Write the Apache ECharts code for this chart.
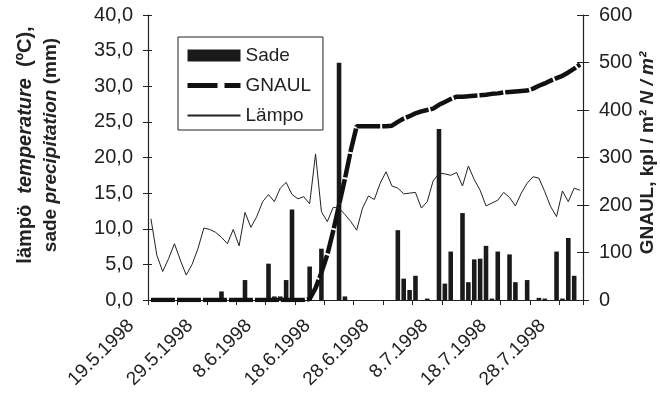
<!DOCTYPE html>
<html><head><meta charset="utf-8">
<script src="https://cdn.jsdelivr.net/npm/echarts@6/dist/echarts.min.js"></script>
<style>html,body{margin:0;padding:0;background:#fff}#c{width:660px;height:398px}</style>
</head><body><div id="c"></div>
<script>
var categories = [
'19.5.1998','20.5.1998','21.5.1998','22.5.1998','23.5.1998','24.5.1998','25.5.1998','26.5.1998','27.5.1998','28.5.1998',
'29.5.1998','30.5.1998','31.5.1998','1.6.1998','2.6.1998','3.6.1998','4.6.1998','5.6.1998','6.6.1998','7.6.1998',
'8.6.1998','9.6.1998','10.6.1998','11.6.1998','12.6.1998','13.6.1998','14.6.1998','15.6.1998','16.6.1998','17.6.1998',
'18.6.1998','19.6.1998','20.6.1998','21.6.1998','22.6.1998','23.6.1998','24.6.1998','25.6.1998','26.6.1998','27.6.1998',
'28.6.1998','29.6.1998','30.6.1998','1.7.1998','2.7.1998','3.7.1998','4.7.1998','5.7.1998','6.7.1998','7.7.1998',
'8.7.1998','9.7.1998','10.7.1998','11.7.1998','12.7.1998','13.7.1998','14.7.1998','15.7.1998','16.7.1998','17.7.1998',
'18.7.1998','19.7.1998','20.7.1998','21.7.1998','22.7.1998','23.7.1998','24.7.1998','25.7.1998','26.7.1998','27.7.1998',
'28.7.1998','29.7.1998','30.7.1998','31.7.1998'];

var sade = [
0,0,0,0,0,0,0,0,0,0,
0,0,1.2,0,0,0,2.8,0,0,0,
5.1,0.5,0.5,2.8,12.7,0,0,4.7,0,7.2,
0,0,33.3,0.5,0,0,0,0,0,0,
0,0,9.8,3.0,1.4,3.4,0,0.2,0,24.0,
2.3,6.8,0,12.2,2.5,5.7,5.8,7.6,0.2,6.8,
0,6.4,2.5,0,2.8,0,0.3,0.2,0,6.8,
0.2,8.7,3.4,0];

var gnaul = [
0,0,0,0,0,0,0,0,0,0,
0,0,0,0,0,0,0,0,0,0,
0,0,0,0,0,0,0,2,25,58,
95,145,200,255,315,366,366,366,366,366,
366,367,375,382,387,393,397,400,403,411,
417,423,428,428,429,430,431,432,434,435,
437,438,439,440,441,445,451,456,462,467,
472,479,487,496];

var lampo = [
11.4,6.3,4.0,5.8,7.9,5.6,3.5,5.0,7.2,10.1,
9.9,9.5,8.8,7.9,9.9,7.6,12.3,10.2,11.7,13.8,
14.8,13.8,15.7,16.5,14.8,14.2,14.5,13.5,20.5,12.4,
11.0,13.0,12.9,12.0,11.0,9.8,12.9,14.6,14.1,16.4,
18.0,16.0,15.7,14.9,15.0,15.1,12.9,13.8,16.7,17.8,
17.7,17.5,17.9,16.0,18.8,16.9,15.4,13.2,13.6,14.0,
15.1,14.4,13.2,15.0,16.4,17.3,17.1,15.2,13.1,11.7,
15.3,13.8,15.7,15.4];

var leftTicks = {min:0, max:40, interval:5};
var rightTicks = {min:0, max:600, interval:100};

var FF = 'Liberation Sans, Arial, sans-serif';
var TXT = '#222';
var chart = echarts.init(document.getElementById('c'), null, {renderer:'canvas'});
var axLine = {show:true, lineStyle:{color:'#222', width:1.2}};
chart.setOption({
  animation:false,
  backgroundColor:'#fff',
  grid:{left:148, right:77, top:15, bottom:98, containLabel:false},
  legend:{
    left:178, top:37, orient:'vertical',
    borderColor:'#222', borderWidth:1, backgroundColor:'#fff',
    padding:[9,12,5,7], itemWidth:53, itemHeight:12, itemGap:11,
    textStyle:{fontFamily:FF, fontSize:19, color:TXT},
    data:[
      {name:'Sade', icon:'rect'},
      {name:'GNAUL', lineStyle:{type:[30,7], width:5, color:'#111'}, itemStyle:{opacity:0}},
      {name:'Lämpo', itemStyle:{opacity:0}}
    ]
  },
  xAxis:[{
    type:'category', data:categories, boundaryGap:true,
    axisLine:axLine,
    axisTick:{show:true, interval:4, length:5, lineStyle:{color:'#222'}},
    axisLabel:{interval:9, rotate:45, fontFamily:FF, fontSize:19, color:TXT, margin:3, padding:[0,28,0,0]},
    splitLine:{show:false}
  },{
    type:'category', data:categories, position:'top', boundaryGap:true,
    axisLine:axLine, axisTick:{show:false}, axisLabel:{show:false}
  }],
  yAxis:[{
    type:'value', position:'left', min:leftTicks.min, max:leftTicks.max, interval:leftTicks.interval,
    axisLine:axLine,
    axisTick:{show:true, length:5, lineStyle:{color:'#222'}},
    axisLabel:{fontFamily:FF, fontSize:20, color:TXT, margin:15,
      formatter:function(v){return v.toFixed(1).replace('.',',');}},
    splitLine:{show:false}
  },{
    type:'value', position:'right', min:rightTicks.min, max:rightTicks.max, interval:rightTicks.interval,
    axisLine:axLine,
    axisTick:{show:true, length:6, lineStyle:{color:'#222'}},
    axisLabel:{fontFamily:FF, fontSize:20, color:TXT, margin:16},
    splitLine:{show:false}
  },{
    type:'value', position:'left', min:leftTicks.min, max:leftTicks.max, interval:leftTicks.interval,
    axisLine:{show:false}, axisTick:{show:true, inside:true, length:4, lineStyle:{color:'#222'}},
    axisLabel:{show:false}, splitLine:{show:false}
  },{
    type:'value', position:'right', min:rightTicks.min, max:rightTicks.max, interval:rightTicks.interval,
    axisLine:{show:false}, axisTick:{show:true, inside:true, length:6, lineStyle:{color:'#222'}},
    axisLabel:{show:false}, splitLine:{show:false}
  }],
  series:[{
    name:'Sade', type:'bar', data:sade, yAxisIndex:0, barWidth:'78%',
    itemStyle:{color:'#1a1a1a'}, z:2
  },{
    name:'GNAUL', type:'line', data:gnaul, yAxisIndex:1, symbol:'none',
    lineStyle:{color:'#111', width:4.5, type:[24,2]}, itemStyle:{color:'#111'}, z:3
  },{
    name:'Lämpo', type:'line', data:lampo, yAxisIndex:0, symbol:'none',
    lineStyle:{color:'#222', width:1}, itemStyle:{color:'#222'}, z:4
  }],
  graphic:[{
    type:'text', x:38, y:145, rotation:Math.PI/2,
    style:{
      text:'{a|lämpö  }{ai|temperature}{a|  (ºC),}\n{b|sade }{bi|precipitation}{b| (mm)}',
      align:'center', verticalAlign:'middle', fill:TXT,
      rich:{
        a:{fontFamily:FF, fontSize:20, fontWeight:'bold', fill:TXT, lineHeight:25},
        ai:{fontFamily:FF, fontSize:20, fontWeight:'bold', fontStyle:'italic', fill:TXT, lineHeight:25},
        b:{fontFamily:FF, fontSize:19, fontWeight:'bold', fill:TXT, lineHeight:25},
        bi:{fontFamily:FF, fontSize:19, fontWeight:'bold', fontStyle:'italic', fill:TXT, lineHeight:25}
      }
    }
  },{
    type:'text', x:648, y:153, rotation:Math.PI/2,
    style:{
      text:'{b|GNAUL, kpl / m² }{bi|N / m²}',
      align:'center', verticalAlign:'middle', fill:TXT,
      rich:{
        b:{fontFamily:FF, fontSize:19, fontWeight:'bold', fill:TXT},
        bi:{fontFamily:FF, fontSize:19, fontWeight:'bold', fontStyle:'italic', fill:TXT}
      }
    }
  }]
});
</script></body></html>
